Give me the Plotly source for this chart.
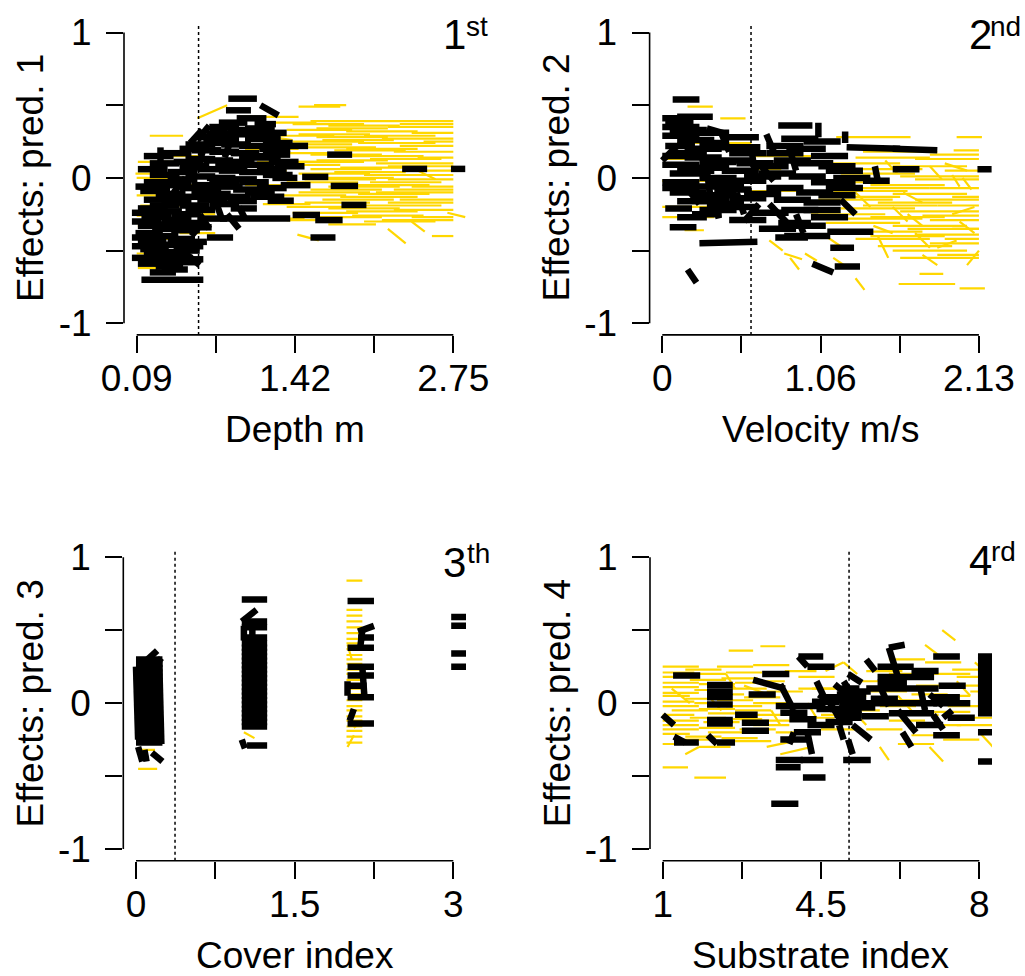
import plotly.graph_objects as go

W, H = 1025, 976

# ---------------- data (segments: x_start, x_end, y_start, y_end) ----------------
depth_yellow = [
    (1.45, 1.80, 0.49, 0.49), (1.58, 1.85, 0.50, 0.50), (1.20, 1.60, 0.38, 0.38), (1.55, 2.05, 0.39, 0.39),
    (2.05, 2.75, 0.39, 0.39), (1.70, 2.30, 0.36, 0.36), (2.20, 2.75, 0.35, 0.35), (1.35, 1.90, 0.33, 0.33),
    (1.85, 2.45, 0.32, 0.32), (2.40, 2.75, 0.31, 0.31), (1.30, 1.75, 0.29, 0.29), (1.60, 2.20, 0.28, 0.28),
    (2.15, 2.75, 0.27, 0.27), (1.40, 2.00, 0.25, 0.25), (1.95, 2.60, 0.24, 0.24), (2.30, 2.75, 0.22, 0.22),
    (1.50, 2.10, 0.21, 0.21), (1.75, 2.35, 0.19, 0.19), (2.25, 2.75, 0.18, 0.18), (1.35, 1.85, 0.17, 0.17),
    (1.90, 2.50, 0.15, 0.15), (2.45, 2.75, 0.14, 0.14), (1.60, 2.20, 0.12, 0.12), (2.10, 2.75, 0.10, 0.10),
    (1.30, 1.80, 0.09, 0.09), (1.80, 2.40, 0.07, 0.07), (2.35, 2.75, 0.05, 0.05), (1.45, 2.05, 0.03, 0.03),
    (2.00, 2.60, 0.02, 0.02), (1.65, 2.25, 0.00, 0.00), (2.20, 2.75, -0.01, -0.01), (1.35, 1.95, -0.03, -0.03),
    (1.90, 2.55, -0.05, -0.05), (2.40, 2.75, -0.06, -0.06), (1.55, 2.15, -0.08, -0.08), (2.10, 2.75, -0.10, -0.10),
    (1.30, 1.85, -0.12, -0.12), (1.80, 2.45, -0.13, -0.13), (2.30, 2.75, -0.15, -0.15), (1.50, 2.05, -0.17, -0.17),
    (2.00, 2.65, -0.19, -0.19), (1.70, 2.30, -0.21, -0.21), (2.25, 2.75, -0.22, -0.22), (1.40, 1.95, -0.24, -0.24),
    (1.90, 2.50, -0.26, -0.26), (2.40, 2.75, -0.27, -0.27), (1.35, 1.80, -0.29, -0.29), (2.15, 2.75, -0.29, -0.29),
    (1.44, 1.62, -0.39, -0.43), (2.40, 2.51, -0.30, -0.37), (2.57, 2.75, -0.40, -0.40), (2.70, 2.85, -0.24, -0.27),
    (2.45, 2.60, 0.05, -0.01), (0.95, 1.45, 0.42, 0.42), (1.05, 1.40, 0.30, 0.26), (1.00, 1.45, 0.20, 0.20),
    (1.10, 1.60, 0.11, 0.11), (0.90, 1.35, 0.05, 0.05), (1.00, 1.50, -0.05, -0.05), (1.15, 1.55, -0.18, -0.18),
    (1.10, 1.50, -0.28, -0.28), (0.60, 0.85, 0.41, 0.50), (0.20, 0.48, 0.29, 0.29), (0.10, 0.55, 0.11, 0.11),
    (0.08, 0.45, 0.03, 0.03), (0.09, 0.50, 0.00, 0.00), (0.10, 0.60, -0.05, -0.05), (0.09, 0.40, -0.12, -0.12),
    (0.12, 0.55, -0.19, -0.19), (0.09, 0.35, -0.26, -0.26), (0.10, 0.50, -0.33, -0.33), (0.09, 0.45, -0.42, -0.42),
    (0.09, 0.40, -0.52, -0.52), (0.15, 0.60, -0.47, -0.47), (0.20, 0.28, -0.55, -0.66), (0.10, 0.35, -0.62, -0.62),
    (0.35, 0.65, 0.15, 0.15), (0.45, 0.75, -0.38, -0.38), (0.55, 0.75, -0.25, -0.25),
    (1.40, 2.00, 0.37, 0.37), (2.30, 2.75, 0.37, 0.37), (1.60, 2.20, 0.34, 0.34), (1.45, 2.05, 0.30, 0.30),
    (2.00, 2.60, 0.29, 0.29), (1.65, 2.25, 0.26, 0.26), (2.50, 2.75, 0.25, 0.25), (1.30, 1.90, 0.23, 0.23),
    (1.85, 2.45, 0.20, 0.20), (1.55, 2.15, 0.16, 0.16), (2.05, 2.65, 0.13, 0.13), (1.40, 2.00, 0.11, 0.11),
    (2.20, 2.75, 0.08, 0.08), (1.55, 2.15, 0.06, 0.06), (1.75, 2.35, 0.04, 0.04), (2.30, 2.75, 0.02, 0.02),
    (1.50, 2.10, -0.01, -0.01), (2.05, 2.65, -0.03, -0.03), (1.70, 2.30, -0.06, -0.06), (2.25, 2.75, -0.08, -0.08),
    (1.45, 2.05, -0.10, -0.10), (1.95, 2.55, -0.11, -0.11), (1.65, 2.25, -0.15, -0.15), (2.20, 2.75, -0.17, -0.17),
    (1.35, 1.90, -0.20, -0.20), (1.85, 2.45, -0.23, -0.23), (1.55, 2.15, -0.27, -0.27), (2.00, 2.60, -0.30, -0.30),
    (2.20, 2.35, -0.35, -0.45), (1.70, 2.10, -0.32, -0.32),
]
depth_black = [
    (0.86, 1.10, 0.545, 0.545), (0.84, 1.05, 0.465, 0.465), (1.13, 1.28, 0.50, 0.43), (0.78, 1.02, 0.38, 0.38),
    (0.68, 0.85, 0.30, 0.34), (0.54, 0.64, 0.24, 0.33), (0.93, 1.18, 0.41, 0.41), (1.69, 1.90, 0.16, 0.16),
    (2.32, 2.53, 0.062, 0.062), (2.73, 2.85, 0.062, 0.062), (1.72, 1.95, -0.055, -0.055), (1.48, 1.70, 0.007, 0.007),
    (1.23, 1.44, 0.0, 0.0), (1.81, 2.02, -0.186, -0.186), (1.40, 1.63, -0.255, -0.255), (1.59, 1.82, -0.29, -0.29),
    (1.55, 1.76, -0.41, -0.41), (0.68, 0.90, -0.41, -0.41), (0.79, 1.38, -0.28, -0.28), (1.19, 1.41, -0.157, -0.157),
    (1.05, 1.33, -0.13, -0.13), (1.30, 1.53, 0.22, 0.22), (1.15, 1.38, 0.16, 0.16), (1.00, 1.30, 0.27, 0.27),
    (1.10, 1.35, -0.07, -0.07), (0.60, 0.85, 0.28, 0.28), (0.75, 1.00, 0.30, 0.30), (0.90, 1.15, 0.31, 0.31),
    (1.00, 1.25, 0.29, 0.29), (0.65, 0.90, 0.24, 0.24), (0.80, 1.05, 0.23, 0.23), (0.95, 1.20, 0.22, 0.22),
    (0.55, 0.80, 0.19, 0.19), (0.70, 0.95, 0.18, 0.18), (0.88, 1.12, 0.17, 0.17), (1.05, 1.30, 0.14, 0.14),
    (0.50, 0.75, 0.13, 0.13), (0.65, 0.90, 0.12, 0.12), (0.82, 1.08, 0.11, 0.11), (0.98, 1.25, 0.09, 0.09),
    (0.45, 0.70, 0.08, 0.08), (0.60, 0.85, 0.06, 0.06), (0.78, 1.02, 0.05, 0.05), (0.95, 1.20, 0.04, 0.04),
    (1.10, 1.35, 0.06, 0.06), (0.50, 0.75, 0.01, 0.01), (0.68, 0.92, 0.00, 0.00), (0.85, 1.10, -0.01, -0.01),
    (0.55, 0.80, -0.05, -0.05), (0.72, 0.98, -0.06, -0.06), (0.90, 1.15, -0.08, -0.08), (0.62, 0.88, -0.11, -0.11),
    (0.80, 1.05, -0.13, -0.13), (0.70, 0.95, -0.18, -0.18), (0.88, 1.10, -0.21, -0.21), (0.75, 0.80, -0.15, -0.27),
    (0.95, 1.00, -0.20, -0.28), (0.60, 0.65, 0.05, 0.20), (0.83, 0.88, 0.14, 0.26), (1.08, 1.26, 0.37, 0.37),
    (0.60, 0.70, 0.26, 0.36), (0.45, 0.70, 0.20, 0.20), (0.30, 0.55, 0.17, 0.17), (0.29, 0.29, 0.21, 0.03),
    (0.20, 0.45, 0.02, 0.02), (0.35, 0.60, 0.04, 0.04), (0.15, 0.40, -0.03, -0.03), (0.30, 0.55, -0.05, -0.05),
    (0.45, 0.70, -0.07, -0.07), (0.12, 0.37, -0.09, -0.09), (0.25, 0.50, -0.11, -0.11), (0.40, 0.65, -0.13, -0.13),
    (0.15, 0.40, -0.15, -0.15), (0.30, 0.55, -0.17, -0.17), (0.45, 0.70, -0.19, -0.19), (0.10, 0.35, -0.21, -0.21),
    (0.22, 0.47, -0.23, -0.23), (0.38, 0.63, -0.25, -0.25), (0.13, 0.38, -0.27, -0.27), (0.30, 0.55, -0.29, -0.29),
    (0.45, 0.68, -0.31, -0.31), (0.10, 0.33, -0.33, -0.33), (0.22, 0.46, -0.35, -0.35), (0.38, 0.62, -0.36, -0.36),
    (0.08, 0.31, -0.38, -0.38), (0.20, 0.44, -0.40, -0.40), (0.35, 0.58, -0.42, -0.42), (0.10, 0.34, -0.44, -0.44),
    (0.25, 0.50, -0.46, -0.46), (0.42, 0.65, -0.47, -0.47), (0.12, 0.36, -0.49, -0.49), (0.28, 0.52, -0.51, -0.51),
    (0.15, 0.38, -0.53, -0.53), (0.32, 0.56, -0.55, -0.55), (0.20, 0.43, -0.57, -0.57), (0.36, 0.58, -0.58, -0.58),
    (0.25, 0.48, -0.61, -0.61), (0.13, 0.65, -0.70, -0.70), (0.36, 0.36, -0.52, -0.65), (0.50, 0.62, -0.52, -0.60),
    (0.55, 0.65, -0.40, -0.30), (0.40, 0.50, -0.10, 0.00), (0.30, 0.40, -0.22, -0.12),
    (0.15, 0.40, 0.15, 0.15), (0.20, 0.45, 0.10, 0.10), (0.10, 0.35, 0.06, 0.06), (0.40, 0.65, 0.11, 0.11),
    (0.50, 0.75, 0.23, 0.23), (0.35, 0.60, -0.01, -0.01), (0.08, 0.33, -0.06, -0.06), (0.55, 0.80, -0.09, -0.09),
    (0.20, 0.45, -0.19, -0.19), (0.05, 0.30, -0.24, -0.24), (0.50, 0.75, -0.22, -0.22), (0.60, 0.85, -0.28, -0.28),
    (0.05, 0.30, -0.30, -0.30), (0.28, 0.52, -0.32, -0.32), (0.50, 0.72, -0.34, -0.34), (0.05, 0.28, -0.41, -0.41),
    (0.45, 0.68, -0.44, -0.44), (0.05, 0.30, -0.47, -0.47), (0.40, 0.62, -0.50, -0.50), (0.05, 0.28, -0.55, -0.55),
    (0.45, 0.65, -0.56, -0.56), (0.10, 0.33, -0.59, -0.59), (0.30, 0.52, -0.63, -0.63), (0.20, 0.42, -0.65, -0.65),
    (0.70, 0.95, 0.35, 0.35), (0.85, 1.10, 0.33, 0.33), (1.00, 1.25, 0.34, 0.34), (1.10, 1.35, 0.31, 0.31),
    (1.15, 1.40, 0.24, 0.24), (1.12, 1.38, 0.20, 0.20), (1.20, 1.45, 0.11, 0.11), (1.15, 1.40, 0.02, 0.02),
    (0.75, 1.00, 0.08, 0.08), (0.95, 1.20, -0.03, -0.03), (1.00, 1.25, -0.10, -0.10), (0.70, 0.95, -0.02, -0.02),
    (0.85, 1.10, -0.16, -0.16), (0.60, 0.85, -0.15, -0.15), (0.95, 1.20, 0.15, 0.15), (0.70, 0.95, 0.26, 0.26),
    (0.62, 0.70, -0.25, -0.35), (0.85, 0.95, -0.25, -0.35), (1.25, 1.50, 0.08, 0.08), (1.30, 1.55, -0.05, -0.05),
]
velocity_yellow = [
    (0.17, 0.34, 0.49, 0.49), (0.39, 0.56, 0.41, 0.41), (1.17, 1.67, 0.28, 0.28), (1.98, 2.15, 0.28, 0.28),
    (1.96, 2.13, 0.19, 0.19), (0.10, 0.60, 0.24, 0.24), (0.00, 0.45, 0.13, 0.13), (0.30, 0.80, 0.06, 0.06),
    (0.00, 0.50, -0.02, -0.02), (0.40, 0.90, -0.09, -0.09), (0.00, 0.40, -0.20, -0.20), (0.00, 0.35, -0.27, -0.27),
    (0.15, 0.28, -0.36, -0.36), (0.60, 1.00, 0.15, 0.15), (1.30, 1.80, 0.14, 0.14), (1.70, 2.13, 0.13, 0.13),
    (1.10, 1.60, 0.10, 0.10), (1.55, 2.05, 0.08, 0.08), (1.90, 2.13, 0.05, 0.05), (1.20, 1.70, 0.03, 0.03),
    (1.60, 2.13, 0.01, 0.01), (1.00, 1.45, -0.03, -0.03), (1.40, 1.90, -0.05, -0.05), (1.80, 2.13, -0.07, -0.07),
    (1.15, 1.65, -0.09, -0.09), (1.55, 2.05, -0.11, -0.11), (1.95, 2.13, -0.13, -0.13), (1.05, 1.55, -0.15, -0.15),
    (1.45, 1.95, -0.17, -0.17), (1.85, 2.13, -0.19, -0.19), (1.20, 1.70, -0.21, -0.21), (1.60, 2.13, -0.23, -0.23),
    (1.00, 1.50, -0.25, -0.25), (1.40, 1.90, -0.27, -0.27), (1.80, 2.13, -0.29, -0.29), (1.10, 1.60, -0.31, -0.31),
    (1.55, 2.05, -0.33, -0.33), (1.95, 2.13, -0.35, -0.35), (1.25, 1.75, -0.37, -0.37), (1.70, 2.13, -0.39, -0.39),
    (1.30, 1.80, -0.42, -0.42), (1.80, 2.13, -0.45, -0.45), (1.45, 1.95, -0.47, -0.47), (1.60, 2.13, -0.55, -0.55),
    (1.59, 1.97, -0.73, -0.73), (2.00, 2.17, -0.76, -0.76), (1.73, 1.89, -0.66, -0.66), (1.75, 1.85, -0.53, -0.60),
    (1.85, 1.98, -0.48, -0.43), (1.45, 1.52, -0.40, -0.55), (1.42, 1.55, -0.33, -0.38), (0.72, 0.81, -0.43, -0.50),
    (0.82, 0.94, -0.52, -0.56), (0.86, 0.92, -0.55, -0.63), (0.96, 1.04, -0.52, -0.57), (1.30, 1.36, -0.69, -0.77),
    (1.80, 1.88, 0.08, -0.01), (1.95, 2.00, 0.02, -0.06), (2.02, 2.08, 0.00, -0.08), (1.62, 1.75, -0.10, -0.17),
    (1.30, 1.40, -0.10, -0.20), (1.10, 1.20, -0.40, -0.47), (1.65, 1.75, -0.25, -0.33), (1.95, 2.10, -0.25, -0.20),
    (1.35, 1.85, 0.18, 0.18), (1.80, 2.13, 0.16, 0.16), (1.25, 1.75, 0.06, 0.06), (1.70, 2.13, -0.01, -0.01),
    (1.30, 1.80, -0.07, -0.07), (1.10, 1.60, -0.13, -0.13), (1.70, 2.13, -0.15, -0.15), (1.35, 1.85, -0.19, -0.19),
    (1.75, 2.13, -0.26, -0.26), (1.25, 1.75, -0.28, -0.28), (1.65, 2.13, -0.35, -0.35), (1.40, 1.90, -0.40, -0.40),
    (1.90, 2.13, -0.42, -0.42), (1.55, 2.05, -0.50, -0.50), (1.85, 2.13, -0.53, -0.53), (1.55, 1.65, -0.20, -0.30),
    (1.70, 1.80, -0.38, -0.48), (2.00, 2.10, -0.30, -0.38), (1.20, 1.28, -0.05, -0.12), (1.90, 2.05, 0.10, 0.05),
    (1.50, 1.58, 0.12, 0.03), (1.15, 1.25, -0.55, -0.62), (2.05, 2.13, -0.60, -0.50),
]
velocity_black = [
    (0.07, 0.25, 0.54, 0.54), (0.00, 0.20, 0.41, 0.41), (0.10, 0.34, 0.42, 0.42), (0.02, 0.21, 0.38, 0.38),
    (0.05, 0.30, 0.33, 0.33), (0.30, 0.44, 0.34, 0.30), (0.00, 0.25, 0.29, 0.29), (0.10, 0.35, 0.26, 0.26),
    (0.25, 0.45, 0.24, 0.24), (0.02, 0.22, 0.22, 0.22), (0.36, 0.66, 0.21, 0.21), (0.00, 0.10, 0.12, 0.22),
    (0.05, 0.30, 0.17, 0.17), (0.15, 0.40, 0.14, 0.14), (0.35, 0.60, 0.12, 0.12), (0.00, 0.25, 0.09, 0.09),
    (0.20, 0.45, 0.07, 0.07), (0.40, 0.65, 0.05, 0.05), (0.05, 0.30, 0.03, 0.03), (0.25, 0.50, 0.00, 0.00),
    (0.45, 0.70, -0.02, -0.02), (0.00, 0.25, -0.03, -0.03), (0.15, 0.40, -0.06, -0.06), (0.35, 0.60, -0.08, -0.08),
    (0.05, 0.30, -0.10, -0.10), (0.25, 0.50, -0.12, -0.12), (0.45, 0.70, -0.14, -0.14), (0.10, 0.35, -0.16, -0.16),
    (0.30, 0.55, -0.18, -0.18), (0.02, 0.20, -0.21, -0.21), (0.20, 0.40, -0.25, -0.25), (0.05, 0.23, -0.34, -0.34),
    (0.25, 0.64, -0.45, -0.44), (0.17, 0.23, -0.63, -0.72), (0.15, 0.25, -0.05, -0.18), (0.50, 0.55, -0.10, -0.25),
    (0.35, 0.38, -0.15, -0.28), (0.60, 0.85, 0.08, 0.08), (0.70, 0.95, 0.17, 0.17), (0.78, 1.01, 0.36, 0.36),
    (1.05, 1.05, 0.38, 0.28), (0.80, 1.05, 0.27, 0.27), (0.70, 0.95, 0.22, 0.22), (0.85, 1.10, 0.20, 0.20),
    (0.75, 1.00, 0.12, 0.12), (0.90, 1.15, 0.10, 0.10), (0.65, 0.90, 0.03, 0.03), (0.85, 1.10, 0.01, 0.01),
    (1.00, 1.30, -0.03, -0.03), (0.70, 0.95, -0.07, -0.07), (0.90, 1.15, -0.10, -0.10), (0.75, 1.00, -0.15, -0.15),
    (0.95, 1.20, -0.17, -0.17), (0.80, 1.05, -0.22, -0.22), (0.78, 1.00, -0.31, -0.31), (0.76, 0.98, -0.41, -0.41),
    (0.82, 1.13, -0.40, -0.40), (0.90, 0.95, -0.25, -0.38), (0.72, 0.85, -0.18, -0.32), (0.65, 0.75, 0.10, -0.02),
    (0.85, 0.90, 0.22, 0.05), (1.11, 1.42, -0.37, -0.37), (1.13, 1.29, -0.48, -0.48), (1.16, 1.33, -0.61, -0.61),
    (1.01, 1.15, -0.59, -0.65), (1.23, 1.23, 0.32, 0.24), (1.24, 1.60, 0.21, 0.20), (1.55, 1.85, 0.20, 0.19),
    (1.55, 1.73, 0.06, 0.06), (2.12, 2.22, 0.06, 0.06), (1.35, 1.53, -0.02, -0.02), (1.43, 1.45, 0.08, -0.02),
    (1.10, 1.35, 0.05, 0.05), (1.05, 1.30, -0.12, -0.12),
    (0.00, 0.25, 0.35, 0.35), (0.20, 0.45, 0.31, 0.31), (0.40, 0.65, 0.28, 0.28), (0.15, 0.40, 0.20, 0.20),
    (0.45, 0.70, 0.17, 0.17), (0.00, 0.25, 0.15, 0.15), (0.25, 0.50, 0.11, 0.11), (0.50, 0.75, 0.10, 0.10),
    (0.10, 0.35, 0.05, 0.05), (0.55, 0.80, 0.01, 0.01), (0.30, 0.55, -0.04, -0.04), (0.00, 0.25, -0.07, -0.07),
    (0.55, 0.80, -0.11, -0.11), (0.20, 0.45, -0.14, -0.14), (0.40, 0.65, -0.20, -0.20), (0.60, 0.85, -0.24, -0.24),
    (0.10, 0.30, -0.27, -0.27), (0.45, 0.70, -0.29, -0.29), (0.25, 0.50, -0.22, -0.22), (0.65, 0.90, -0.35, -0.35),
    (0.95, 1.20, 0.25, 0.25), (1.00, 1.25, 0.15, 0.15), (1.05, 1.30, 0.08, 0.08), (1.10, 1.35, -0.07, -0.07),
    (0.95, 1.20, -0.22, -0.22), (1.00, 1.25, -0.27, -0.27), (0.85, 1.10, -0.33, -0.33), (1.15, 1.40, 0.00, 0.00),
    (0.60, 0.62, 0.20, 0.05), (0.30, 0.32, 0.05, -0.10), (0.55, 0.65, -0.30, -0.18), (0.40, 0.45, 0.30, 0.18),
    (1.20, 1.30, -0.15, -0.25), (0.70, 0.75, 0.30, 0.18),
]
cover_yellow = [
    (0.02, 0.18, -0.32, -0.32), (0.02, 0.20, -0.45, -0.45), (1.02, 1.12, -0.20, -0.24), (1.04, 1.10, 0.15, 0.10),
    (1.99, 2.14, 0.84, 0.84), (1.99, 2.14, 0.64, 0.64), (1.99, 2.14, 0.60, 0.60), (1.99, 2.14, 0.56, 0.56),
    (1.99, 2.14, 0.52, 0.52), (1.99, 2.14, 0.48, 0.48), (1.99, 2.14, 0.44, 0.44), (1.99, 2.14, 0.41, 0.41),
    (1.99, 2.14, 0.37, 0.37), (1.99, 2.14, 0.33, 0.33), (1.99, 2.14, 0.30, 0.30), (1.99, 2.14, 0.27, 0.27),
    (1.99, 2.14, 0.23, 0.23), (1.99, 2.14, 0.20, 0.20), (1.99, 2.14, 0.16, 0.16), (1.99, 2.14, 0.13, 0.13),
    (1.99, 2.14, 0.10, 0.10), (1.99, 2.14, 0.06, 0.06), (1.99, 2.14, 0.02, 0.02), (1.99, 2.14, -0.02, -0.02),
    (1.99, 2.14, -0.05, -0.05), (1.99, 2.14, -0.09, -0.09), (1.99, 2.14, -0.12, -0.12), (1.99, 2.14, -0.16, -0.16),
    (1.99, 2.14, -0.19, -0.19), (1.99, 2.14, -0.23, -0.23), (1.99, 2.14, -0.27, -0.27), (2.00, 2.06, -0.30, -0.22),
    (2.06, 2.14, -0.17, -0.12), (2.00, 2.04, 0.40, 0.30),
]
cover_black = [
    (0.05, 0.20, 0.26, 0.36), (0.14, 0.24, 0.22, 0.31), (0.00, 0.25, 0.30, 0.30), (0.00, 0.25, 0.27, 0.27),
    (0.00, 0.25, 0.24, 0.24), (0.00, 0.25, 0.21, 0.21), (0.00, 0.25, 0.18, 0.18), (0.00, 0.25, 0.15, 0.15),
    (0.00, 0.25, 0.12, 0.12), (0.00, 0.25, 0.09, 0.09), (0.00, 0.25, 0.06, 0.06), (0.00, 0.25, 0.03, 0.03),
    (0.00, 0.25, 0.00, 0.00), (0.00, 0.25, -0.03, -0.03), (0.00, 0.25, -0.06, -0.06), (0.00, 0.25, -0.09, -0.09),
    (0.00, 0.25, -0.12, -0.12), (0.00, 0.25, -0.15, -0.15), (0.00, 0.25, -0.18, -0.18), (0.00, 0.25, -0.21, -0.21),
    (0.00, 0.25, -0.24, -0.24), (0.00, 0.25, -0.27, -0.27), (0.00, 0.02, 0.25, -0.25), (0.22, 0.24, 0.28, -0.28),
    (0.02, 0.06, -0.30, -0.40), (0.08, 0.10, -0.32, -0.40), (0.15, 0.25, -0.34, -0.40), (0.10, 0.12, 0.20, -0.20),
    (1.00, 1.24, 0.71, 0.71), (1.00, 1.14, 0.56, 0.64), (1.00, 1.24, 0.56, 0.56), (1.00, 1.24, 0.52, 0.52),
    (1.00, 1.24, 0.45, 0.45), (1.02, 1.02, 0.43, 0.53), (1.10, 1.10, 0.43, 0.53), (1.00, 1.24, 0.41, 0.41),
    (1.00, 1.24, 0.38, 0.38), (1.00, 1.24, 0.35, 0.35), (1.00, 1.24, 0.32, 0.32), (1.00, 1.24, 0.29, 0.29),
    (1.00, 1.24, 0.26, 0.26), (1.00, 1.24, 0.23, 0.23), (1.00, 1.24, 0.20, 0.20), (1.00, 1.24, 0.17, 0.17),
    (1.00, 1.24, 0.14, 0.14), (1.00, 1.24, 0.11, 0.11), (1.00, 1.24, 0.08, 0.08), (1.00, 1.24, 0.05, 0.05),
    (1.00, 1.24, 0.02, 0.02), (1.00, 1.24, -0.01, -0.01), (1.00, 1.24, -0.04, -0.04), (1.00, 1.24, -0.07, -0.07),
    (1.00, 1.24, -0.10, -0.10), (1.00, 1.24, -0.13, -0.13), (1.00, 1.24, -0.16, -0.16), (1.00, 1.03, -0.25, -0.31),
    (1.05, 1.24, -0.29, -0.29), (1.05, 1.15, 0.05, 0.15),
    (2.00, 2.25, 0.70, 0.70), (2.10, 2.25, 0.49, 0.53), (2.10, 2.25, 0.45, 0.45), (2.00, 2.25, 0.38, 0.38),
    (2.12, 2.14, 0.38, 0.50), (2.00, 2.25, 0.25, 0.25), (2.00, 2.25, 0.19, 0.19), (2.00, 2.18, 0.12, 0.12),
    (2.00, 2.25, 0.04, 0.04), (2.00, 2.00, 0.15, 0.05), (2.00, 2.25, -0.14, -0.14), (2.02, 2.06, -0.12, -0.04),
    (2.14, 2.16, 0.25, 0.04),
    (2.98, 3.12, 0.59, 0.59), (2.98, 3.12, 0.53, 0.53), (2.98, 3.12, 0.34, 0.34), (2.98, 3.12, 0.25, 0.25),
]
substrate_yellow = [
    (1.0, 1.8, 0.25, 0.25), (1.5, 2.3, 0.23, 0.23), (2.2, 3.0, 0.25, 0.25), (3.0, 3.8, 0.26, 0.26),
    (2.46, 3.0, 0.36, 0.36), (3.16, 3.71, 0.39, 0.39), (1.0, 1.7, 0.18, 0.18), (1.6, 2.4, 0.16, 0.16),
    (2.3, 3.1, 0.17, 0.17), (3.0, 3.7, 0.15, 0.15), (1.0, 1.8, 0.11, 0.11), (1.7, 2.5, 0.09, 0.09),
    (2.5, 3.3, 0.10, 0.10), (3.3, 4.1, 0.08, 0.08), (1.0, 1.6, 0.05, 0.05), (1.5, 2.3, 0.03, 0.03),
    (2.2, 3.0, 0.02, 0.02), (3.0, 3.8, 0.00, 0.00), (1.0, 1.8, -0.02, -0.02), (1.8, 2.6, -0.04, -0.04),
    (2.6, 3.4, -0.05, -0.05), (1.0, 1.7, -0.08, -0.08), (1.6, 2.4, -0.10, -0.10), (2.4, 3.2, -0.11, -0.11),
    (3.2, 4.0, -0.12, -0.12), (1.0, 1.8, -0.15, -0.15), (1.8, 2.6, -0.17, -0.17), (2.7, 3.5, -0.18, -0.18),
    (1.0, 1.6, -0.21, -0.21), (1.5, 2.3, -0.23, -0.23), (2.3, 3.1, -0.24, -0.24), (1.0, 1.8, -0.28, -0.28),
    (1.8, 2.5, -0.30, -0.30), (3.3, 3.9, -0.30, -0.26), (1.0, 1.56, -0.44, -0.44), (1.7, 2.4, -0.51, -0.51),
    (1.2, 1.6, 0.10, 0.00), (2.0, 2.3, 0.05, -0.05), (3.4, 3.6, -0.05, -0.15), (3.6, 4.3, -0.35, -0.30),
    (3.5, 4.0, -0.20, -0.20), (2.8, 3.4, 0.12, 0.05), (4.0, 4.8, 0.18, 0.18), (4.3, 5.1, 0.10, 0.10),
    (4.7, 5.5, 0.05, 0.05), (5.0, 5.8, -0.05, -0.05), (5.3, 6.1, 0.15, 0.15), (5.6, 6.4, 0.08, 0.08),
    (6.0, 6.8, 0.02, 0.02), (6.3, 7.1, -0.08, -0.08), (6.6, 7.4, 0.12, 0.12), (7.0, 7.8, 0.05, 0.05),
    (7.3, 8.1, -0.02, -0.02), (7.5, 8.3, 0.18, 0.18), (7.4, 8.2, 0.23, 0.23), (6.8, 7.6, 0.28, 0.28),
    (6.0, 6.8, 0.30, 0.30), (7.18, 7.47, 0.50, 0.43), (6.8, 7.1, 0.40, 0.33), (7.8, 8.3, 0.08, 0.08),
    (7.6, 8.3, -0.10, -0.10), (6.8, 7.6, -0.15, -0.15), (6.0, 6.8, -0.12, -0.12), (5.5, 6.3, -0.18, -0.18),
    (6.5, 7.3, -0.22, -0.22), (7.2, 8.0, -0.25, -0.25), (5.8, 6.0, -0.30, -0.39), (4.5, 5.3, -0.18, -0.18),
    (4.0, 4.8, -0.10, -0.10), (5.2, 5.5, -0.05, -0.15), (6.2, 6.5, 0.05, -0.05), (7.5, 7.8, 0.15, 0.05),
    (5.0, 5.3, 0.28, 0.20), (8.0, 8.3, -0.20, -0.30), (3.7, 4.4, 0.22, 0.22), (4.6, 5.0, 0.22, 0.28),
    (1.0, 1.7, 0.21, 0.21), (1.6, 2.4, 0.20, 0.20), (2.4, 3.2, 0.21, 0.21), (1.0, 1.8, 0.14, 0.14),
    (1.8, 2.6, 0.13, 0.13), (2.6, 3.4, 0.14, 0.14), (1.0, 1.8, 0.07, 0.07), (2.0, 2.8, 0.06, 0.06),
    (2.8, 3.6, 0.04, 0.04), (1.0, 1.7, 0.01, 0.01), (1.7, 2.5, 0.00, 0.00), (2.4, 3.2, -0.02, -0.02),
    (1.2, 2.0, -0.05, -0.05), (2.0, 2.8, -0.07, -0.07), (2.8, 3.6, -0.08, -0.08), (1.0, 1.8, -0.12, -0.12),
    (1.9, 2.7, -0.13, -0.13), (3.0, 3.8, -0.15, -0.15), (1.0, 1.8, -0.18, -0.18), (2.0, 2.8, -0.20, -0.20),
    (2.6, 3.4, -0.26, -0.26), (1.3, 2.1, -0.25, -0.25), (4.0, 4.8, 0.10, 0.10), (4.5, 5.3, -0.08, -0.08),
    (5.8, 6.6, -0.02, -0.02), (6.5, 7.3, 0.06, 0.06), (7.0, 7.8, -0.06, -0.06), (7.5, 8.3, 0.12, 0.12),
    (7.5, 8.3, -0.15, -0.15), (6.0, 6.8, 0.20, 0.20), (5.5, 6.3, 0.22, 0.22), (7.0, 7.8, 0.20, 0.20),
    (6.2, 7.0, -0.28, -0.28), (4.2, 4.4, 0.00, -0.10), (2.4, 2.6, 0.20, 0.10), (1.5, 1.8, -0.35, -0.30),
    (6.9, 7.2, -0.30, -0.40), (7.9, 8.2, 0.28, 0.20),
]
substrate_black = [
    (1.23, 1.83, 0.19, 0.19), (1.98, 2.55, 0.125, 0.125), (1.98, 2.55, 0.08, 0.08), (1.98, 2.55, 0.04, 0.04),
    (1.98, 2.55, -0.01, -0.01), (1.98, 2.55, -0.115, -0.115), (1.98, 2.55, -0.14, -0.14), (2.0, 2.2, -0.22, -0.28),
    (2.2, 2.6, -0.27, -0.27), (1.25, 1.80, -0.27, -0.27), (1.25, 1.50, -0.23, -0.27), (1.0, 1.25, -0.08, -0.15),
    (2.75, 3.35, -0.135, -0.135), (2.75, 3.35, -0.19, -0.19), (3.0, 3.7, 0.16, 0.10), (3.6, 3.9, 0.13, -0.05),
    (4.0, 4.55, 0.32, 0.32), (4.0, 4.2, 0.32, 0.25), (4.2, 4.8, 0.25, 0.25), (3.5, 4.6, -0.02, -0.02),
    (3.6, 4.2, -0.065, -0.065), (3.8, 4.4, -0.11, -0.11), (4.2, 4.8, -0.15, -0.15), (3.6, 4.2, -0.25, -0.25),
    (4.2, 4.3, -0.20, -0.35), (3.5, 4.1, -0.39, -0.39), (3.5, 4.05, -0.44, -0.44), (4.05, 4.55, -0.39, -0.39),
    (4.1, 4.6, -0.51, -0.51), (3.4, 4.0, -0.69, -0.69), (4.99, 5.6, -0.39, -0.39), (4.8, 5.4, 0.02, 0.02),
    (4.9, 5.5, -0.02, -0.02), (4.9, 5.4, -0.06, -0.06), (4.85, 5.45, 0.06, 0.06), (4.95, 5.35, 0.10, 0.10),
    (4.9, 5.4, -0.10, -0.10), (4.6, 5.2, -0.13, -0.13), (4.8, 5.3, 0.13, 0.00), (5.0, 5.2, 0.15, 0.05),
    (4.7, 5.0, 0.00, -0.15), (5.2, 5.6, -0.15, -0.25), (5.52, 7.07, 0.0, 0.0), (5.75, 6.55, 0.25, 0.25),
    (6.0, 6.2, 0.38, 0.18), (6.0, 6.35, 0.38, 0.40), (5.75, 7.00, 0.18, 0.18), (5.50, 7.10, 0.10, 0.10),
    (5.75, 6.40, 0.14, 0.14), (6.00, 7.00, -0.07, -0.07), (6.20, 6.60, -0.05, -0.20), (6.3, 6.5, -0.20, -0.30),
    (6.98, 7.57, 0.32, 0.32), (6.98, 7.57, 0.04, 0.04), (6.98, 7.80, 0.00, 0.00), (6.98, 7.57, -0.22, -0.22),
    (6.98, 7.20, -0.08, -0.18), (7.2, 7.4, -0.10, -0.05), (7.97, 8.28, 0.32, 0.32), (7.97, 8.28, 0.30, 0.30),
    (7.97, 8.28, 0.20, 0.20), (7.97, 8.28, 0.16, 0.16), (7.97, 8.28, 0.12, 0.12), (7.97, 8.28, 0.08, 0.08),
    (7.97, 8.28, 0.04, 0.04), (7.97, 8.28, 0.00, 0.00), (7.97, 8.28, -0.04, -0.04), (7.97, 8.28, -0.07, -0.07),
    (7.97, 8.28, -0.20, -0.20), (7.97, 8.28, -0.40, -0.40), (5.1, 5.4, 0.20, 0.14), (5.8, 6.0, 0.12, -0.02),
    (6.9, 7.2, 0.06, -0.02), (4.45, 4.75, 0.06, 0.0), (5.1, 5.2, -0.25, -0.35),
    (4.6, 5.2, 0.04, 0.04), (4.7, 5.3, -0.04, -0.04), (4.8, 5.4, -0.08, -0.08), (5.0, 5.6, 0.08, 0.08),
    (5.0, 5.6, 0.00, 0.00), (4.9, 5.5, 0.04, 0.04), (5.1, 5.7, -0.03, -0.03), (4.4, 5.0, -0.04, -0.04),
    (4.3, 4.9, 0.01, 0.01), (5.6, 6.2, 0.03, 0.03), (5.4, 6.0, -0.09, -0.09), (3.9, 4.5, -0.20, -0.20),
    (2.9, 3.5, 0.06, 0.06), (2.6, 3.1, -0.08, -0.08), (3.2, 3.8, 0.20, 0.20), (4.4, 4.6, 0.15, 0.02),
    (6.5, 7.1, 0.22, 0.22), (7.1, 7.7, 0.12, 0.12), (7.3, 7.9, -0.10, -0.10), (6.6, 7.2, -0.15, -0.15),
    (7.97, 8.28, 0.26, 0.26), (7.97, 8.28, 0.23, 0.23), (7.97, 8.28, 0.10, 0.10), (7.97, 8.28, 0.02, 0.02),
    (7.97, 8.28, -0.02, -0.02), (7.97, 8.28, 0.14, 0.14), (7.97, 8.28, 0.06, 0.06), (5.5, 5.7, 0.30, 0.22),
    (6.7, 6.8, 0.10, -0.05), (4.9, 5.0, -0.15, -0.25), (3.8, 3.9, -0.28, -0.20),
]

# axis ticks / labels
x_tickvals = [[0.09, 0.755, 1.42, 2.085, 2.75], [0, 0.5325, 1.065, 1.5975, 2.13],
              [0, 0.75, 1.5, 2.25, 3], [1, 2.75, 4.5, 6.25, 8]]
x_ticktext = [["0.09", "", "1.42", "", "2.75"], ["0", "", "1.06", "", "2.13"],
              ["0", "", "1.5", "", "3"], ["1", "", "4.5", "", "8"]]
y_tickvals = [-1, -0.5, 0, 0.5, 1]
y_ticktext = ["-1", "", "0", "", "1"]
x_titles = ["Depth m", "Velocity m/s", "Cover index", "Substrate index"]
y_titles = ["Effects: pred. 1", "Effects: pred. 2", "Effects: pred. 3", "Effects: pred. 4"]
ordinals = [("1", "st"), ("2", "nd"), ("3", "th"), ("4", "rd")]
cutoffs = [0.61, 0.597, 0.369, 5.12]

# ---------------- layout geometry (pixels) ----------------
x_dom_px = [(124.0, 466.0), (649.6, 991.6), (123.3, 466.0), (650.0, 992.0)]
y_dom_px = [(20.9, 334.9), (20.9, 334.9), (545.6, 860.7), (545.6, 860.7)]
x_ranges = [(-0.0164, 2.8564), (-0.0852, 2.2152), (-0.12, 3.12), (0.72, 8.28)]
y_range = (-1.08, 1.08)
# (digit right edge, digit centre y, suffix left edge, suffix centre y)
ord_pos = [(467, 34, 465, 27), (993, 34, 989, 27), (467, 562, 466, 553), (993, 560, 990, 551)]

FONT = "Liberation Sans, Arial, Helvetica, sans-serif"
YEL = "#FFD700"


def px_x(p):
    return p / W


def px_y(p):
    return 1 - p / H


def seg_xy(segs):
    xs, ys = [], []
    for x0, x1, y0, y1 in segs:
        xs += [x0, x1, None]
        ys += [y0, y1, None]
    return xs, ys


fig = go.Figure()
series = [(depth_yellow, depth_black), (velocity_yellow, velocity_black),
          (cover_yellow, cover_black), (substrate_yellow, substrate_black)]

shapes, annotations = [], []
for i in range(4):
    n = "" if i == 0 else str(i + 1)
    xa, ya = "x" + n, "y" + n
    yel, blk = series[i]
    xs, ys = seg_xy(yel)
    fig.add_trace(go.Scatter(x=xs, y=ys, mode="lines", xaxis=xa, yaxis=ya,
                             line=dict(color=YEL, width=2.2), hoverinfo="skip", showlegend=False))
    xs, ys = seg_xy(blk)
    fig.add_trace(go.Scatter(x=xs, y=ys, mode="lines", xaxis=xa, yaxis=ya,
                             line=dict(color="black", width=6.5), hoverinfo="skip", showlegend=False))

    xd = [px_x(x_dom_px[i][0]), px_x(x_dom_px[i][1])]
    yd = [px_y(y_dom_px[i][1]), px_y(y_dom_px[i][0])]
    common = dict(showgrid=False, zeroline=False, showline=False, ticks="outside", automargin=False,
                  ticklen=17, tickwidth=1.6, tickcolor="black",
                  tickfont=dict(family=FONT, size=37, color="black"))
    fig.layout["xaxis" + n] = dict(domain=xd, range=list(x_ranges[i]), anchor=ya,
                                   tickmode="array", tickvals=x_tickvals[i], ticktext=x_ticktext[i],
                                   ticklabelstandoff=-6, **common)
    fig.layout["yaxis" + n] = dict(domain=yd, range=list(y_range), anchor=xa,
                                   tickmode="array", tickvals=y_tickvals, ticktext=y_ticktext,
                                   ticklabelstandoff=7, **common)
    # detached axis lines spanning first to last tick
    shapes.append(dict(type="line", xref=xa, yref=ya + " domain", x0=x_tickvals[i][0], x1=x_tickvals[i][-1],
                       y0=0, y1=0, line=dict(color="black", width=1.6)))
    shapes.append(dict(type="line", xref=xa + " domain", yref=ya, x0=0, x1=0,
                       y0=y_tickvals[0], y1=y_tickvals[-1], line=dict(color="black", width=1.6)))
    # dotted cutoff
    shapes.append(dict(type="line", xref=xa, yref=ya + " domain", x0=cutoffs[i], x1=cutoffs[i],
                       y0=0.0, y1=0.985, line=dict(color="black", width=1.5, dash="dot")))
    # titles
    xc = (x_dom_px[i][0] + x_dom_px[i][1]) / 2
    yb = y_dom_px[i][1]
    annotations.append(dict(text=x_titles[i], xref="paper", yref="paper", x=px_x(xc), y=px_y(yb + 95),
                            xanchor="center", yanchor="middle", showarrow=False,
                            font=dict(family=FONT, size=37, color="black")))
    yc = (y_dom_px[i][0] + y_dom_px[i][1]) / 2
    annotations.append(dict(text=y_titles[i], xref="paper", yref="paper",
                            x=px_x(x_dom_px[i][0] - 93), y=px_y(yc), textangle=-90,
                            xanchor="center", yanchor="middle", showarrow=False,
                            font=dict(family=FONT, size=37, color="black")))
    num, suf = ordinals[i]
    dx, dy, sx, sy = ord_pos[i]
    annotations.append(dict(text=num, xref="paper", yref="paper", x=px_x(dx), y=px_y(dy),
                            xanchor="right", yanchor="middle", showarrow=False, borderpad=0,
                            font=dict(family=FONT, size=42, color="black")))
    annotations.append(dict(text=suf, xref="paper", yref="paper", x=px_x(sx), y=px_y(sy),
                            xanchor="left", yanchor="middle", showarrow=False, borderpad=0,
                            font=dict(family=FONT, size=28, color="black")))

fig.update_layout(width=W, height=H, margin=dict(l=0, r=0, t=0, b=0),
                  paper_bgcolor="white", plot_bgcolor="white",
                  shapes=shapes, annotations=annotations, showlegend=False)

fig.write_html("out.html")
